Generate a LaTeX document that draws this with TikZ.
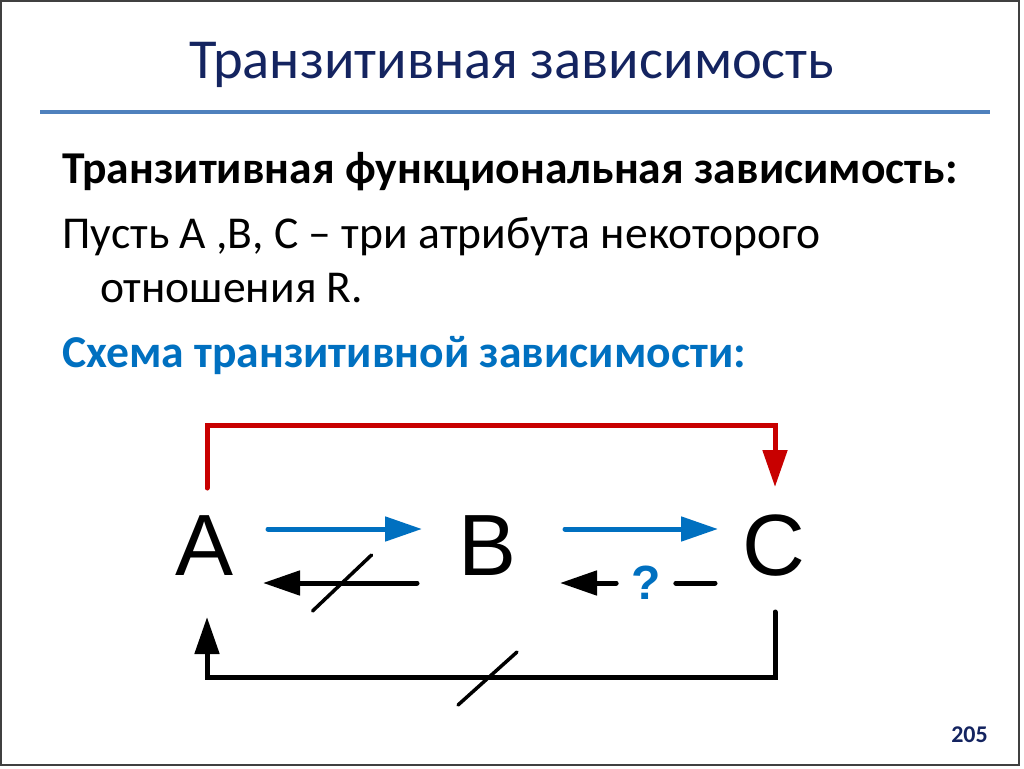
\documentclass[tikz,border=0pt]{standalone}
\usepackage{fontspec}
\setmainfont{Carlito}
\newfontfamily\diagfont{Liberation Sans}
\usepackage{tikz}
\usetikzlibrary{positioning, arrows.meta}
\definecolor{titlenavy}{RGB}{20,36,96}
\definecolor{rulebl}{RGB}{79,129,189}
\definecolor{schemabl}{RGB}{0,112,192}
\definecolor{fdred}{RGB}{200,0,0}
\tikzstyle{heading} = [anchor=base, inner sep=0pt, text=titlenavy, font=\fontsize{56.5}{68}\selectfont]
\tikzstyle{bodytext} = [anchor=base west, inner sep=0pt, font=\fontsize{45.6}{55}\selectfont]
\tikzstyle{attr} = [inner sep=0pt, font=\diagfont\fontsize{87}{100}\selectfont]
\tikzstyle{qmark} = [inner xsep=15pt, inner ysep=0pt, text=schemabl, font=\diagfont\bfseries\fontsize{48}{56}\selectfont]
\tikzstyle{bluearrow} = [line width=5pt, line cap=round, draw=schemabl, -{Triangle[length=37pt,width=24pt,fill=schemabl]}]
\tikzstyle{blackarrow} = [line width=5pt, line cap=round, -{Triangle[length=37pt,width=24pt]}]
\tikzstyle{redarrow} = [line width=5pt, line cap=round, draw=fdred, -{Triangle[length=37pt,width=24pt,fill=fdred]}]
\tikzstyle{blackline} = [line width=5pt, line cap=round]
\tikzstyle{slash} = [line width=3.5pt, line cap=round]

\begin{document}
\begin{tikzpicture}[x=1pt, y=1pt]
        \useasboundingbox (0,0) rectangle (1024,-768);
        \fill[white] (0,0) rectangle (1024,-768);
        \draw[line width=1.5pt, black!75] (1,-1) rectangle (1019,-765);

        \node (title) [heading] at (512,-78) {Транзитивная зависимость};
        \draw[line width=4pt, rulebl] (40,-112) -- (990,-112);

        \node (def) [bodytext, font=\bfseries\fontsize{45.6}{55}\selectfont] at (62,-183) {Транзитивная функциональная зависимость:};
        \node (let) [bodytext] at (62,-248) {Пусть А ,В, С – три атрибута некоторого};
        \node (rel) [bodytext] at (100,-302) {отношения R.};
        \node (scheme) [bodytext, text=schemabl, font=\bfseries\fontsize{45.6}{55}\selectfont] at (62,-367) {Схема транзитивной зависимости:};

        \node (A) [attr] at (205,-546) {A};
        \node (B) [attr] at (488,-546) {B};
        \node (C) [attr] at (774,-546) {C};
        \node (q) [qmark] at (646,-583) {?};

        \draw [redarrow] ([shift={(2,58)}]A.center) -- ++(0,63) -| ([shift={(1,59)}]C.center);
        \draw [bluearrow] ([shift={(63,17)}]A.center) -- ([shift={(-66,17)}]B.center);
        \draw [bluearrow] ([shift={(77,17)}]B.center) -- ([shift={(-56,17)}]C.center);
        \draw [blackarrow] ([shift={(-71,-37)}]B.center) -- coordinate[pos=0.49] (cutba) ([shift={(58,-37)}]A.center);
        \draw [blackline] ([shift={(-59,-37)}]C.center) -- (q.east);
        \draw [blackarrow] (q.west) -- ([shift={(72,-37)}]B.center);
        \draw [blackarrow] ([shift={(1,-66)}]C.center) -- ++(0,-65) -| ([shift={(2,-71)}]A.center);
        \coordinate (cutca) at ([yshift=-132]B.center);

        \draw [slash] ([shift={(-29,-28)}]cutba) -- ([shift={(30,28)}]cutba);
        \draw [slash] ([shift={(-30,-27)}]cutca) -- ([shift={(29,26)}]cutca);

        \node (page) [anchor=base east, inner sep=0pt, text=titlenavy, font=\bfseries\fontsize{24}{29}\selectfont] at (988,-742) {205};
\end{tikzpicture}
\end{document}
